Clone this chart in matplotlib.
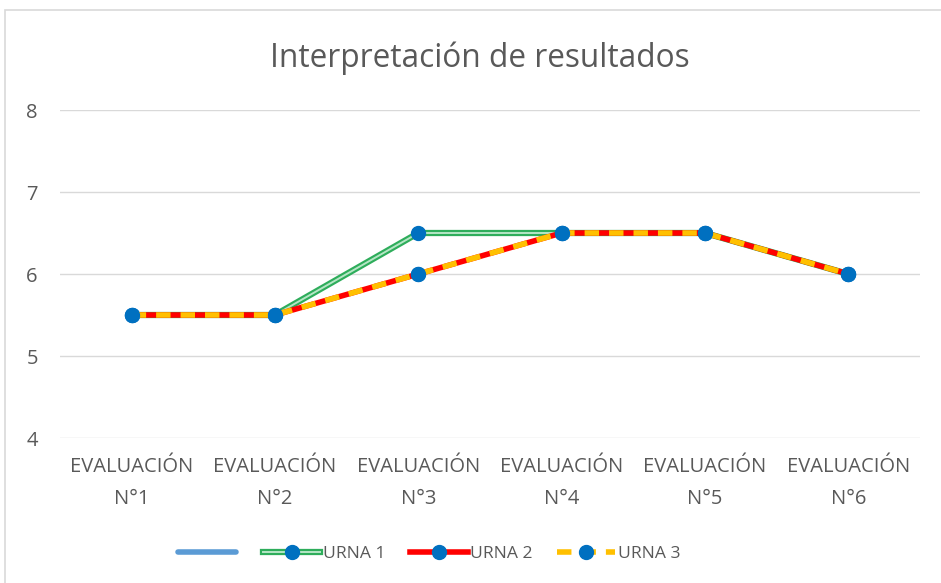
import matplotlib.pyplot as plt
from matplotlib.lines import Line2D
from matplotlib.patches import Rectangle
import numpy as np

# Data
categories = ['EVALUACIÓN\nN°1', 'EVALUACIÓN\nN°2', 'EVALUACIÓN\nN°3',
              'EVALUACIÓN\nN°4', 'EVALUACIÓN\nN°5', 'EVALUACIÓN\nN°6']
urna1 = [5.5, 5.5, 6.5, 6.5, 6.5, 6.0]
urna2 = [5.5, 5.5, 6.0, 6.5, 6.5, 6.0]
urna3 = [5.5, 5.5, 6.0, 6.5, 6.5, 6.0]
series_names = ['', 'URNA 1', 'URNA 2', 'URNA 3']
y_ticks = [4, 5, 6, 7, 8]

plt.rcParams['font.family'] = ['Open Sans', 'DejaVu Sans']
text_color = '#595959'
marker_color = '#0070C0'

fig = plt.figure(figsize=(9.41, 5.83), dpi=100)
ax = fig.add_axes([60 / 941, 1 - 438 / 583, 860 / 941, 328 / 583])

# outer chart border (only left and top visible)
fig.patches.append(Rectangle((5 / 941, -0.2), 1.2, 1.2 - 10 / 583,
                             transform=fig.transFigure, fill=False,
                             edgecolor='#D9D9D9', lw=1.2))

x = np.arange(len(categories))
mk = dict(marker='o', markersize=10, markerfacecolor=marker_color,
          markeredgecolor=marker_color)

# empty first series (only shows up in the legend)
h0 = Line2D([], [], color='#5B9BD5', lw=4, solid_capstyle='round')

# URNA 1: double green line
g1, = ax.plot(x, urna1, color='#2EAD5B', lw=4.5, zorder=2)
g2, = ax.plot(x, urna1, color='#B5E6C5', lw=1.4, zorder=2)
g3, = ax.plot(x, urna1, ls='none', zorder=2, **mk)

# URNA 2: red
r1, = ax.plot(x, urna2, color='#FF0000', lw=4, zorder=3)
r2, = ax.plot(x, urna2, ls='none', zorder=3, **mk)

# URNA 3: yellow dashed over the red one
y1, = ax.plot(x, urna3, color='#FFC000', lw=4, ls=(0, (2.6, 1.8)), zorder=4)
y2, = ax.plot(x, urna3, ls='none', zorder=4, **mk)

ax.set_xlim(-0.5, len(categories) - 0.5)
ax.set_ylim(4, 8)
ax.set_yticks(y_ticks)
ax.set_xticks(x)
ax.set_xticklabels(categories, linespacing=1.75)
ax.tick_params(axis='both', length=0, labelsize=14.5, colors=text_color)
ax.tick_params(axis='x', pad=14)
ax.tick_params(axis='y', pad=16)
ax.grid(axis='y', color='#D9D9D9', lw=1)
ax.set_axisbelow(True)
for s in ax.spines.values():
    s.set_visible(False)

fig.text(480 / 941, 1 - 58 / 583, 'Interpretación de resultados',
         ha='center', va='center', fontsize=22.8, color=text_color)

leg = ax.legend([h0, (g1, g2, g3), (r1, r2), (y1, y2)], series_names,
                loc='center', bbox_to_anchor=(429 / 941, 1 - 554 / 583),
                bbox_transform=fig.transFigure, ncol=4, frameon=False,
                fontsize=12.6, handlelength=3.3, columnspacing=1.4,
                handletextpad=0.15, labelcolor=text_color)

fig.savefig('out.png', dpi=100)
